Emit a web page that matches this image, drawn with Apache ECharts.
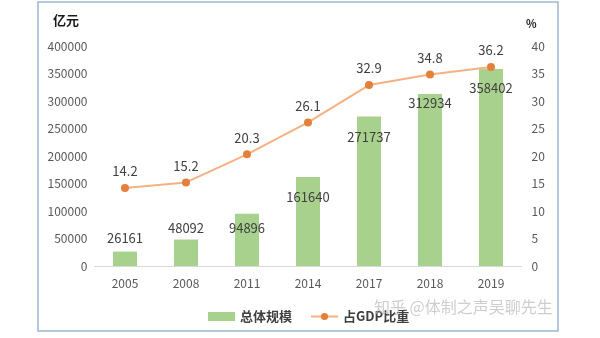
<!DOCTYPE html>
<html>
<head>
<meta charset="utf-8">
<script src="https://cdn.jsdelivr.net/npm/echarts@6/dist/echarts.min.js"></script>
<style>
  html, body { margin: 0; padding: 0; background: #fff; }
  #chart { width: 600px; height: 338px; }
</style>
</head>
<body>
<div id="chart"></div>
<script>
// Years on the category axis
const years = ['2005', '2008', '2011', '2014', '2017', '2018', '2019'];
// Total scale, 亿元
const totalScale = [26161, 48092, 94896, 161640, 271737, 312934, 358402];
// Share of GDP, %
const gdpShare = [14.2, 15.2, 20.3, 26.1, 32.9, 34.8, 36.2];
// Left / right axis tick ranges
const leftTicks = { min: 0, max: 400000, interval: 50000 };
const rightTicks = { min: 0, max: 40, interval: 5 };

// Vertical nudges for the bar value labels (px, relative to the bar top)
const barLabelShift = [-7, -5, 21, 26, 27, 16, 26];

const FONT = '"Noto Sans CJK SC", "Noto Sans", sans-serif';

const chart = echarts.init(document.getElementById('chart'), null, { renderer: 'canvas' });

chart.setOption({
  animation: false,
  backgroundColor: '#ffffff',
  textStyle: { fontFamily: FONT },
  grid: { left: 94.5, right: 78.5, top: 46, bottom: 72, containLabel: false },
  legend: {
    left: 203,
    top: 305,
    itemGap: 18,
    itemWidth: 27,
    itemHeight: 9,
    textStyle: { fontFamily: FONT, fontSize: 13, fontWeight: 'bold', color: '#404040' },
    data: [
      { name: '总体规模', icon: 'rect' },
      { name: '占GDP比重' }
    ]
  },
  xAxis: {
    type: 'category',
    data: years,
    axisTick: { show: false },
    axisLine: { show: true, lineStyle: { color: '#d9d9d9', width: 1 } },
    axisLabel: { color: '#595959', fontSize: 12, margin: 11, fontFamily: FONT }
  },
  yAxis: [
    {
      type: 'value',
      min: leftTicks.min, max: leftTicks.max, interval: leftTicks.interval,
      splitLine: { show: false },
      axisLine: { show: false },
      axisTick: { show: false },
      axisLabel: {
        color: '#595959', fontSize: 12, margin: 7, fontFamily: FONT,
        formatter: (v) => String(v)
      }
    },
    {
      type: 'value',
      min: rightTicks.min, max: rightTicks.max, interval: rightTicks.interval,
      splitLine: { show: false },
      axisLine: { show: false },
      axisTick: { show: false },
      axisLabel: {
        color: '#595959', fontSize: 12, margin: 10, align: 'left', fontFamily: FONT,
        formatter: (v) => String(v)
      }
    }
  ],
  series: [
    {
      name: '总体规模',
      type: 'bar',
      yAxisIndex: 0,
      barWidth: 24,
      itemStyle: { color: '#a9d18e' },
      data: totalScale.map((v, i) => ({
        value: v,
        label: {
          show: true,
          position: 'top',
          distance: 0,
          offset: [0, barLabelShift[i]],
          color: '#404040',
          fontSize: 13,
          fontFamily: FONT
        }
      })),
      z: 2
    },
    {
      name: '占GDP比重',
      type: 'line',
      yAxisIndex: 1,
      data: gdpShare,
      symbol: 'circle',
      symbolSize: 8,
      lineStyle: { color: '#f4b183', width: 2 },
      itemStyle: { color: '#e5803b' },
      label: {
        show: true,
        position: 'top',
        distance: 6,
        color: '#404040',
        fontSize: 13,
        fontFamily: FONT
      },
      z: 3
    }
  ],
  graphic: [
    {
      type: 'rect',
      shape: { x: 38, y: 2, width: 520, height: 329 },
      style: { fill: 'none', stroke: '#9fb6cd', lineWidth: 1.5 },
      silent: true
    },
    {
      type: 'text',
      left: 53, top: 14,
      style: { text: '亿元', font: 'bold 13px ' + FONT, fill: '#1a1a1a' }
    },
    {
      type: 'text',
      left: 526, top: 18,
      style: { text: '%', font: 'bold 11px ' + FONT, fill: '#1a1a1a' }
    },
    {
      type: 'text',
      left: 374, top: 299,
      z: 100,
      style: { text: '知乎 @体制之声吴聊先生', font: '16px ' + FONT, fill: 'rgba(190,190,190,0.75)' }
    }
  ]
});
</script>
</body>
</html>
